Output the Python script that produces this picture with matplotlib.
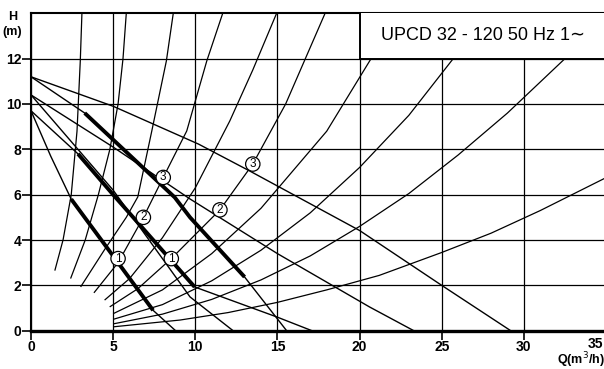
import matplotlib
matplotlib.use("Agg")
import matplotlib.pyplot as plt
from matplotlib.patches import Rectangle

plt.rcParams['font.family'] = ['Liberation Sans', 'DejaVu Sans']

# ── Pump curves: Q (m3/h) vs H (m) ───────────────────────────────────────────
a1_q = [0, 1.2, 2.45, 5.3, 7.43, 8.8]
a1_h = [9.7, 7.7, 5.8, 3.0, 0.9, 0.0]
a1_thick_q = [2.45, 5.3, 7.43]
a1_thick_h = [5.8, 3.0, 0.9]

b1_q = [0, 2.86, 5.0, 9.96, 14.95, 17.1]
b1_h = [9.7, 7.8, 6.0, 1.93, 0.61, 0.0]
b1_thick_q = [2.86, 5.0, 9.96]
b1_thick_h = [7.8, 6.0, 1.93]

a2_q = [0, 5.0, 9.68, 12.3]
a2_h = [10.4, 6.2, 1.49, 0.0]

a3_q = [0, 3.27, 8.75, 9.68, 13.0, 15.56]
a3_h = [11.2, 9.6, 5.88, 5.0, 2.37, 0.0]
a3_thick_q = [3.27, 8.75, 9.68, 13.0]
a3_thick_h = [9.6, 5.88, 5.0, 2.37]

b2_q = [0, 5.0, 9.68, 15.0, 20.6, 23.3]
b2_h = [10.4, 8.1, 5.81, 3.4, 1.05, 0.0]

b3_q = [0, 5.0, 10.2, 13.3, 20.0, 25.0, 29.2]
b3_h = [11.2, 9.9, 8.23, 7.05, 4.42, 2.0, 0.0]

pump_thin = [(a1_q, a1_h), (b1_q, b1_h), (a2_q, a2_h),
             (a3_q, a3_h), (b2_q, b2_h), (b3_q, b3_h)]
pump_thick = [(a1_thick_q, a1_thick_h), (b1_thick_q, b1_thick_h),
              (a3_thick_q, a3_thick_h)]

# ── System curves ────────────────────────────────────────────────────────────
s1_q = [1.45, 1.95, 2.45, 2.8, 3.0, 3.1]
s1_h = [2.65, 4.0, 6.0, 8.8, 11.9, 14.0]
s2_q = [2.41, 3.3, 4.1, 4.8, 5.3, 5.6, 5.8]
s2_h = [2.3, 4.0, 6.0, 8.0, 10.0, 12.0, 14.0]
s3_q = [3.02, 4.5, 5.8, 6.5, 7.35, 8.24, 8.66]
s3_h = [1.93, 3.6, 5.0, 5.9, 8.8, 11.9, 14.0]
s4_q = [3.83, 5.3, 6.84, 8.05, 9.48, 10.7, 11.67]
s4_h = [1.67, 3.0, 5.0, 6.76, 8.81, 11.9, 14.0]
s5_q = [4.48, 6.0, 8.0, 10.0, 12.1, 13.5, 14.95]
s5_h = [1.35, 2.3, 4.1, 6.3, 9.25, 11.5, 14.0]
s6_q = [4.79, 6.5, 8.54, 11.5, 13.5, 15.5, 17.9]
s6_h = [1.05, 1.85, 3.18, 5.33, 7.35, 10.0, 14.0]
s7_q = [5.0, 8.0, 11.0, 14.0, 18.0, 20.7, 22.0]
s7_h = [0.75, 1.8, 3.4, 5.4, 8.8, 12.0, 13.5]
s8_q = [5.0, 8.0, 11.0, 14.0, 17.0, 20.0, 23.0, 25.7, 26.5]
s8_h = [0.5, 1.15, 2.2, 3.55, 5.2, 7.2, 9.5, 12.0, 12.8]
s9_q = [5.0, 8.0, 11.0, 14.0, 17.0, 20.0, 23.0, 26.0, 29.0, 32.5, 33.5]
s9_h = [0.3, 0.73, 1.38, 2.24, 3.3, 4.6, 6.05, 7.75, 9.6, 12.0, 12.8]
s10_q = [5.0, 9.07, 12.0, 15.0, 18.0, 21.2, 25.0, 28.0, 31.0, 35.0]
s10_h = [0.17, 0.47, 0.8, 1.25, 1.8, 2.44, 3.45, 4.3, 5.3, 6.75]

system_curves = [(s1_q, s1_h), (s2_q, s2_h), (s3_q, s3_h), (s4_q, s4_h),
                 (s5_q, s5_h), (s6_q, s6_h), (s7_q, s7_h), (s8_q, s8_h),
                 (s9_q, s9_h), (s10_q, s10_h)]

# speed markers (circled numbers)
mark_q = [5.3, 6.84, 8.05, 8.54, 11.5, 13.5]
mark_h = [3.18, 5.0, 6.76, 3.18, 5.33, 7.35]
mark_txt = ["1", "2", "3", "1", "2", "3"]

x_ticks = [0, 5, 10, 15, 20, 25, 30, 35]
y_ticks = [0, 2, 4, 6, 8, 10, 12]
title = "UPCD 32 - 120 50 Hz 1\u223c"

# ── Figure ───────────────────────────────────────────────────────────────────
fig = plt.figure(figsize=(6.04, 3.69), dpi=100)
ax = fig.add_axes([31 / 604, 38.3 / 369, 575 / 604, 317.4 / 369])
ax.set_xlim(0, 35)
ax.set_ylim(0, 14)

ax.set_xticks(x_ticks)
ax.set_yticks(y_ticks)
# the 35 label sits at the cut edge of the sheet, drawn separately below
ax.set_xticklabels([str(v) for v in x_ticks[:-1]] + [""])
ax.set_yticklabels([str(v) for v in y_ticks])
ax.tick_params(direction="out", length=6.5, width=1.2, pad=0.5,
               labelsize=10, colors="black")
ax.tick_params(axis="x", pad=0)
for lbl in ax.get_xticklabels() + ax.get_yticklabels():
    lbl.set_fontweight("bold")

ax.grid(True, color="black", lw=0.9)
ax.set_axisbelow(True)
for side in ("left", "top"):
    ax.spines[side].set_linewidth(1.5)
ax.spines["bottom"].set_linewidth(2.4)
ax.spines["right"].set_visible(False)

for q, h in system_curves:
    ax.plot(q, h, color="black", lw=0.9, solid_capstyle="butt", zorder=2)
for q, h in pump_thin:
    ax.plot(q, h, color="black", lw=1.0, solid_capstyle="butt", zorder=3)
for q, h in pump_thick:
    ax.plot(q, h, color="black", lw=2.8, solid_capstyle="butt", zorder=3)

for q, h, t in zip(mark_q, mark_h, mark_txt):
    ax.text(q, h, t, ha="center", va="center", fontsize=8.5, zorder=6,
            bbox=dict(boxstyle="circle,pad=0.1", fc="white", ec="black", lw=0.9))

# title box in the top right corner
ax.add_patch(Rectangle((20, 12), 16, 2.5, fc="white", ec="black", lw=1.4,
                       zorder=5, clip_on=True))
ax.text(21.3, 13.0, title, fontsize=13, va="center", ha="left", zorder=6)

fig.text(12.5 / 604, 1 - 17.5 / 369, "H", fontsize=9, fontweight="bold",
         ha="center", va="center")
fig.text(12.5 / 604, 1 - 32 / 369, "(m)", fontsize=9, fontweight="bold",
         ha="center", va="center")
fig.text(603 / 604, 1 - 344 / 369, str(x_ticks[-1]), fontsize=10,
         fontweight="bold", ha="right", va="center")
fig.text(557 / 604, 1 - 360.5 / 369, "Q(m$^3$/h)", fontsize=9, fontweight="bold",
         ha="left", va="center")

fig.savefig("out.png", dpi=100)
